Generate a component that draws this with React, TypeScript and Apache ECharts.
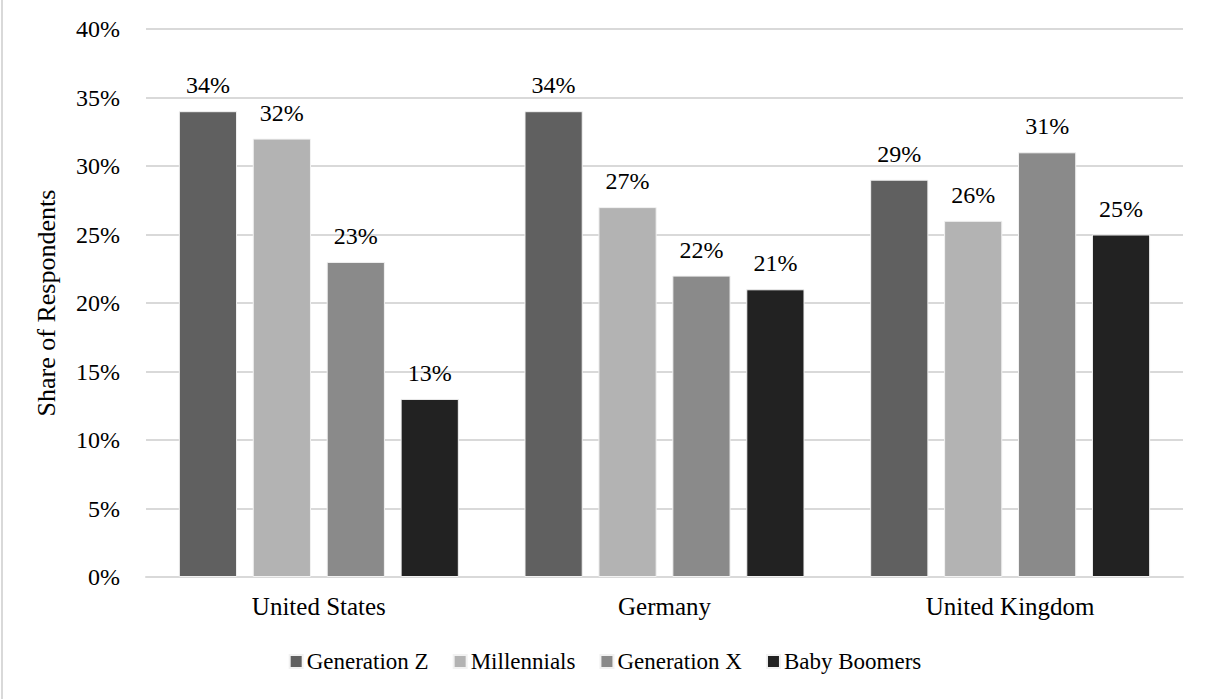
import React, { useEffect, useRef } from "react";
import * as echarts from "echarts";

const countries = ["United States", "Germany", "United Kingdom"];
const generations = ["Generation Z", "Millennials", "Generation X", "Baby Boomers"];
const generationZ = [34, 34, 29];
const millennials = [32, 27, 26];
const generationX = [23, 22, 31];
const babyBoomers = [13, 21, 25];
const seriesValues = [generationZ, millennials, generationX, babyBoomers];
const seriesColors = ["#606060", "#b3b3b3", "#8a8a8a", "#222222"];
const yTicks = [0, 5, 10, 15, 20, 25, 30, 35, 40];

const FONT = "Liberation Serif";

export default function App() {
  const ref = useRef<HTMLDivElement>(null);

  useEffect(() => {
    if (!ref.current) return;
    const chart = echarts.init(ref.current, undefined, { renderer: "svg" });
    chart.setOption({
      animation: false,
      backgroundColor: "#ffffff",
      textStyle: { fontFamily: FONT, color: "#000" },
      grid: { left: 146, right: 27, top: 29, bottom: 122, containLabel: false },
      legend: {
        data: generations,
        top: 645,
        left: "center",
        itemWidth: 13,
        itemHeight: 13,
        itemGap: 24,
        icon: "rect",
        textStyle: { fontFamily: FONT, fontSize: 23, color: "#000", padding: [0, 0, 0, -1] },
      },
      xAxis: {
        type: "category",
        data: countries,
        axisLine: { show: true, lineStyle: { color: "#d9d9d9", width: 2 } },
        axisTick: { show: false },
        axisLabel: { fontFamily: FONT, fontSize: 25, color: "#000", margin: 17 },
      },
      yAxis: {
        type: "value",
        min: yTicks[0],
        max: yTicks[yTicks.length - 1],
        interval: 5,
        name: "Share of Respondents",
        nameLocation: "middle",
        nameGap: 87,
        nameRotate: 90,
        nameTextStyle: { fontFamily: FONT, fontSize: 26, color: "#000" },
        axisLine: { show: false },
        axisTick: { show: false },
        splitLine: { lineStyle: { color: "#d9d9d9", width: 2 } },
        axisLabel: {
          fontFamily: FONT,
          fontSize: 24,
          color: "#000",
          margin: 26,
          formatter: (v: number) => `${v}%`,
        },
      },
      series: generations.map((name, i) => ({
        name,
        type: "bar",
        data: seriesValues[i],
        barCategoryGap: "19%",
        barGap: "27%",
        itemStyle: { color: seriesColors[i], borderColor: "#f2f2f2", borderWidth: 1 },
        label: {
          show: true,
          position: "top",
          distance: 14,
          fontFamily: FONT,
          fontSize: 24,
          color: "#000",
          formatter: (p: any) => `${p.value}%`,
        },
      })),
      graphic: [
        {
          type: "line",
          shape: { x1: 2, y1: 0, x2: 2, y2: 699 },
          style: { stroke: "#d9d9d9", lineWidth: 2 },
        },
      ],
    });
    return () => chart.dispose();
  }, []);

  return (
    <div
      ref={ref}
      style={{ position: "fixed", left: 0, top: 0, width: 1210, height: 699 }}
    />
  );
}
